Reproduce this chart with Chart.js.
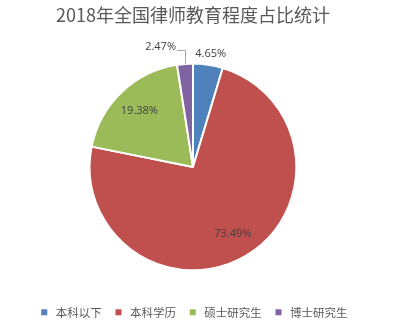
<!DOCTYPE html>
<html>
<head>
<meta charset="utf-8">
<script src="https://cdn.jsdelivr.net/npm/chart.js@4"></script>
<style>
html,body{margin:0;padding:0;background:#fff;}
#wrap{width:396px;height:329px;position:relative;}
</style>
</head>
<body>
<div id="wrap"><canvas id="c" width="396" height="329"></canvas></div>
<script>
const chartTitle = '2018年全国律师教育程度占比统计';
const categories = ['本科以下', '本科学历', '硕士研究生', '博士研究生'];
const shares = [4.65, 73.49, 19.38, 2.47];
const colors = ['#4F81BD', '#C0504D', '#9BBB59', '#8064A2'];

const labelFont = '11px "Open Sans", "Noto Sans", sans-serif';

const pieLabels = {
  id: 'pieLabels',
  afterDatasetsDraw(chart) {
    const ctx = chart.ctx;
    const meta = chart.getDatasetMeta(0);
    const data = chart.data.datasets[0].data;
    ctx.save();
    ctx.font = labelFont;
    ctx.fillStyle = '#404040';
    ctx.textBaseline = 'middle';
    meta.data.forEach((arc, i) => {
      const p = arc.getProps(['x', 'y', 'startAngle', 'endAngle', 'outerRadius'], true);
      const mid = (p.startAngle + p.endAngle) / 2;
      const txt = data[i].toFixed(2) + '%';
      const cos = Math.cos(mid), sin = Math.sin(mid);
      if (data[i] >= 10) {
        const d = p.outerRadius * 0.75;
        ctx.textAlign = 'center';
        ctx.fillText(txt, p.x + cos * d, p.y + sin * d);
      } else if (i === data.length - 1) {
        const ax = p.x + cos * p.outerRadius;
        const ay = p.y + sin * p.outerRadius;
        const ly = p.y - p.outerRadius - 14;
        ctx.strokeStyle = '#A6A6A6';
        ctx.lineWidth = 1;
        ctx.beginPath();
        ctx.moveTo(Math.round(ax) + 0.5, ay);
        ctx.lineTo(Math.round(ax) + 0.5, Math.round(ly) + 0.5);
        ctx.lineTo(Math.round(ax) - 8, Math.round(ly) + 0.5);
        ctx.stroke();
        ctx.textAlign = 'right';
        ctx.fillText(txt, Math.round(ax) - 9, ly - 3);
      } else {
        const d = p.outerRadius + 11;
        ctx.textAlign = 'center';
        ctx.fillText(txt, p.x + cos * d + 1, p.y + sin * d);
      }
    });
    ctx.restore();
  }
};

new Chart(document.getElementById('c'), {
  type: 'pie',
  data: {
    labels: categories,
    datasets: [{
      data: shares,
      backgroundColor: colors,
      borderColor: '#FFFFFF',
      borderWidth: 2
    }]
  },
  options: {
    responsive: false,
    animation: false,
    layout: { padding: { left: 0, right: 10, top: 0, bottom: 1 } },
    plugins: {
      tooltip: { enabled: false },
      title: {
        display: true,
        text: chartTitle,
        color: '#595959',
        font: { family: '"Noto Sans CJK SC", sans-serif', size: 18, weight: 'normal' },
        padding: { top: 4, bottom: 37 }
      },
      legend: {
        position: 'bottom',
        title: { display: true, text: '', font: { size: 1 }, padding: { top: 23, bottom: 0 } },
        labels: {
          usePointStyle: true,
          pointStyle: 'rect',
          boxHeight: 6,
          padding: 11,
          color: '#595959',
          font: { family: '"Noto Sans CJK SC", sans-serif', size: 11.5 },
          generateLabels(chart) {
            return chart.data.labels.map((l, i) => ({
              text: l,
              fillStyle: colors[i],
              strokeStyle: colors[i],
              lineWidth: 0,
              pointStyle: 'rect',
              fontColor: '#595959',
              index: i,
              hidden: false
            }));
          }
        }
      }
    }
  },
  plugins: [pieLabels]
});
</script>
</body>
</html>
